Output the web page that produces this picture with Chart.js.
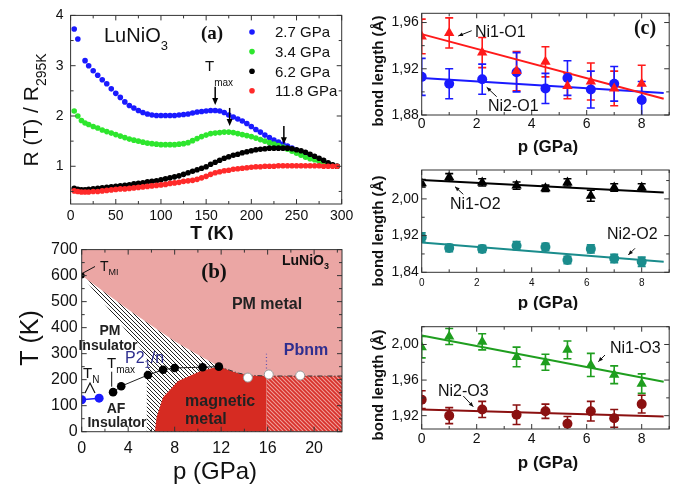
<!DOCTYPE html>
<html>
<head>
<meta charset="utf-8">
<script src="https://cdn.jsdelivr.net/npm/chart.js@4.4.0/dist/chart.umd.min.js"></script>
<style>
  html, body { margin: 0; padding: 0; background: #fff; }
  #wrap { position: relative; width: 683px; height: 484px; overflow: hidden; }
  canvas { position: absolute; }
</style>
</head>
<body>
<div id="wrap">
  <canvas id="chartA" width="360" height="240" style="left:0;top:0"></canvas>
  <canvas id="chartB" width="360" height="248" style="left:0;top:236px"></canvas>
  <canvas id="chartC1" width="343" height="155" style="left:340px;top:0"></canvas>
  <canvas id="chartC2" width="343" height="155" style="left:340px;top:155px"></canvas>
  <canvas id="chartC3" width="343" height="174" style="left:340px;top:310px"></canvas>
</div>
<script>
const SANS = '"Liberation Sans", Arial, Helvetica, sans-serif';
const SERIF = '"Liberation Serif", "Times New Roman", serif';

// ---- (a) resistance vs temperature ----
const temps = [4, 8, 12, 16, 20, 25, 30, 35, 40, 45, 50, 55, 60, 65, 70, 75, 80, 85, 90, 95,
  100, 105, 110, 115, 120, 125, 130, 135, 140, 145, 150, 155, 160, 165, 170, 175, 180, 185, 190, 195,
  200, 205, 210, 215, 220, 225, 230, 235, 240, 245, 250, 255, 260, 265, 270, 275, 280, 285, 290, 295];
const r27 = [3.73, 3.53, null, 3.10, 3.00, 2.90, 2.81, 2.72, 2.64, 2.54, 2.45, 2.37, 2.28, 2.21, 2.16, 2.11, 2.07, 2.04, 2.02, 2.01,
  2.01, 2.01, 2.01, 2.01, 2.02, 2.03, 2.04, 2.06, 2.08, 2.09, 2.10, 2.11, 2.11, 2.10, 2.07, 2.02, 1.98, 1.94, 1.90, 1.85,
  1.79, 1.73, 1.68, 1.62, 1.57, 1.52, 1.48, 1.44, 1.40, 1.36, 1.32, 1.28, 1.24, 1.20, 1.15, 1.11, 1.08, 1.05, 1.02, 1.00];
const r34 = [2.10, 2.00, 1.91, 1.86, 1.83, 1.79, 1.76, 1.72, 1.69, 1.66, 1.63, 1.60, 1.57, 1.54, 1.52, 1.50, 1.48, 1.46, 1.45, 1.44,
  1.43, 1.43, 1.43, 1.43, 1.44, 1.45, 1.47, 1.51, 1.55, 1.59, 1.62, 1.65, 1.66, 1.67, 1.68, 1.68, 1.67, 1.65, 1.63, 1.61,
  1.59, 1.56, 1.53, 1.50, 1.47, 1.44, 1.41, 1.38, 1.34, 1.30, 1.26, 1.22, 1.18, 1.15, 1.13, 1.10, 1.07, 1.04, 1.02, 1.00];
const r62 = [0.56, 0.54, 0.53, 0.53, 0.54, 0.55, 0.56, 0.57, 0.58, 0.59, 0.60, 0.61, 0.62, 0.63, 0.65, 0.66, 0.67, 0.69, 0.70, 0.71,
  0.73, 0.75, 0.77, 0.79, 0.81, 0.84, 0.87, 0.90, 0.93, 0.96, 0.99, 1.04, 1.08, 1.12, 1.16, 1.19, 1.22, 1.24, 1.27, 1.29,
  1.31, 1.33, 1.34, 1.35, 1.36, 1.36, 1.36, 1.36, 1.36, 1.35, 1.33, 1.31, 1.28, 1.24, 1.20, 1.16, 1.12, 1.07, 1.03, 1.00];
const r118 = [0.51, 0.50, 0.49, 0.49, 0.49, 0.50, 0.50, 0.51, 0.52, 0.53, 0.54, 0.55, 0.55, 0.56, 0.57, 0.58, 0.59, 0.60, 0.61, 0.62,
  0.63, 0.64, 0.66, 0.67, 0.68, 0.70, 0.71, 0.72, 0.74, 0.77, 0.80, 0.84, 0.87, 0.89, 0.91, 0.92, 0.94, 0.95, 0.96, 0.97,
  0.98, 0.99, 0.99, 1.00, 1.00, 1.00, 1.01, 1.01, 1.01, 1.01, 1.01, 1.01, 1.01, 1.01, 1.01, 1.01, 1.00, 1.00, 1.00, 1.00];
const pressures = ['2.7 GPa', '3.4 GPa', '6.2 GPa', '11.8 GPa'];
const colorsA = ['#1a1aff', '#2ee62e', '#000000', '#ff2a2a'];
const tmaxArrows = [[160, 2.58, 2.22], [176, 2.16, 1.80], [236, 1.80, 1.44]]; // T, from, to
const ticksAx = [0, 50, 100, 150, 200, 250, 300];
const ticksAy = [1, 2, 3, 4];

// ---- (b) phase diagram ----
const tmaxP = [2.7, 3.4, 5.7, 7.0, 8.0, 10.4, 11.8];
const tmaxT = [152, 175, 218, 238, 245, 248, 250];
const tnP = [0, 1.5];
const tnT = [123, 129];
const pbnmP = [14.3, 16.1, 18.8];
const pbnmT = [208, 220, 216];
const tmiP = [0];
const tmiT = [600];
const pmEdgeP = [0, 2, 4, 6, 8, 10, 11.8, 12.5, 13.5, 14.5, 15.9, 22.4];
const pmEdgeT = [600, 535, 470, 408, 348, 296, 252, 240, 225, 217, 214, 214];
const metalEdgeP = [6.3, 6.45, 7.0, 8.3, 10.2, 11.8];
const metalEdgeT = [0, 57, 132, 195, 232, 252];
const insEdgeP = [0, 5.6, 5.6];
const insEdgeT = [600, 290, 0];
const phaseSplitP = 15.9;
const splitLineT = [216, 300];
const ticksBx = [0, 4, 8, 12, 16, 20];
const ticksBy = [0, 100, 200, 300, 400, 500, 600, 700];

// ---- (c) bond lengths ----
const pc = [0, 1, 2.2, 3.45, 4.5, 5.3, 6.15, 7.0, 8.0];
const ni1o1 = [1.948, 1.951, 1.934, 1.918, 1.926, 1.905, 1.909, 1.903, 1.907];
const ni1o1Err = [0.015, 0.013, 0.013, 0.017, 0.013, 0.011, 0.016, 0.015, 0.016];
const ni2o1 = [1.913, 1.907, 1.911, 1.917, 1.903, 1.912, 1.902, 1.907, 1.893];
const ni2o1Err = [0.016, 0.013, 0.013, 0.017, 0.013, 0.015, 0.016, 0.015, 0.016];
const ni1o2 = [2.034, 2.047, 2.036, 2.029, 2.023, 2.036, 2.007, 2.025, 2.025];
const ni1o2Err = [0.008, 0.008, 0.008, 0.008, 0.007, 0.008, 0.012, 0.008, 0.008];
const ni2o2 = [1.916, 1.893, 1.891, 1.898, 1.895, 1.867, 1.891, 1.870, 1.863];
const ni2o2Err = [0.010, 0.008, 0.008, 0.009, 0.008, 0.008, 0.009, 0.009, 0.010];
const ni1o3 = [1.997, 2.009, 2.003, 1.986, 1.980, 1.994, 1.977, 1.966, 1.956];
const ni1o3Err = [0.012, 0.009, 0.009, 0.011, 0.009, 0.010, 0.013, 0.010, 0.011];
const ni2o3 = [1.938, 1.920, 1.927, 1.921, 1.925, 1.911, 1.925, 1.917, 1.933];
const ni2o3Err = [0.010, 0.009, 0.009, 0.011, 0.008, 0.008, 0.011, 0.010, 0.010];
const fitP = [0, 8.8];
const ni1o1Fit = [1.950, 1.894];
const ni2o1Fit = [1.912, 1.899];
const ni1o2Fit = [2.041, 2.014];
const ni2o2Fit = [1.905, 1.863];
const ni1o3Fit = [2.010, 1.958];
const ni2o3Fit = [1.927, 1.919];
const ticksCx = [0, 2, 4, 6, 8];

function xy(xs, ys) {
  return xs.map((v, i) => ({x: v, y: ys[i]})).filter(p => p.y !== null);
}

function hatch(fg, bg, gap, lw) {
  const c = document.createElement('canvas');
  c.width = gap; c.height = gap;
  const g = c.getContext('2d');
  g.fillStyle = bg; g.fillRect(0, 0, gap, gap);
  g.strokeStyle = fg; g.lineWidth = lw;
  g.beginPath();
  g.moveTo(-gap, 0); g.lineTo(gap, 2 * gap);
  g.moveTo(0, 0); g.lineTo(gap, gap);
  g.moveTo(0, -gap); g.lineTo(2 * gap, gap);
  g.stroke();
  return g.createPattern(c, 'repeat');
}

// text with optional subscripts, y = middle of capitals
function rich(ctx, x, y, parts, o) {
  const w = o.bold ? 'bold ' : '';
  const fam = o.serif ? SERIF : SANS;
  const big = w + o.size + 'px ' + fam;
  const small = w + Math.round(o.size * (o.sub || 0.66)) + 'px ' + fam;
  const dy = o.dy !== undefined ? o.dy : o.size * 0.3;
  ctx.save();
  ctx.fillStyle = o.color || '#111';
  ctx.textBaseline = 'alphabetic';
  let total = 0;
  parts.forEach(p => { ctx.font = p[1] ? small : big; total += ctx.measureText(p[0]).width; });
  let cx = o.align === 'center' ? x - total / 2 : (o.align === 'right' ? x - total : x);
  const base = y + o.size * 0.36;
  parts.forEach(p => {
    ctx.font = p[1] ? small : big;
    ctx.fillText(p[0], cx, base + (p[1] ? dy : 0));
    cx += ctx.measureText(p[0]).width;
  });
  ctx.restore();
}

function vrich(ctx, x, y, parts, o) {
  ctx.save();
  ctx.translate(x, y);
  ctx.rotate(-Math.PI / 2);
  rich(ctx, 0, 0, parts, Object.assign({align: 'center'}, o));
  ctx.restore();
}

function pointer(ctx, x0, y0, x1, y1, head) {
  ctx.save();
  ctx.strokeStyle = '#111'; ctx.fillStyle = '#111'; ctx.lineWidth = 1;
  ctx.beginPath(); ctx.moveTo(x0, y0); ctx.lineTo(x1, y1); ctx.stroke();
  if (head) {
    const a = Math.atan2(y1 - y0, x1 - x0);
    ctx.beginPath();
    ctx.moveTo(x1, y1);
    ctx.lineTo(x1 - 5 * Math.cos(a - 0.4), y1 - 5 * Math.sin(a - 0.4));
    ctx.lineTo(x1 - 5 * Math.cos(a + 0.4), y1 - 5 * Math.sin(a + 0.4));
    ctx.closePath(); ctx.fill();
  }
  ctx.restore();
}

// box round the plot with inward ticks on all four sides
const framePlugin = {
  id: 'frame',
  afterDraw(chart, args, o) {
    const {ctx, chartArea: a, scales: {x, y}} = chart;
    const majX = x.ticks.map(t => t.value), majY = y.ticks.map(t => t.value);
    ctx.save();
    ctx.strokeStyle = '#333'; ctx.lineWidth = 1;
    ctx.strokeRect(a.left, a.top, a.right - a.left, a.bottom - a.top);
    ctx.beginPath();
    for (let v = Math.ceil(x.min / o.dx - 1e-6) * o.dx; v <= x.max + 1e-9; v += o.dx) {
      const len = majX.some(m => Math.abs(m - v) < 1e-6) ? 5 : 3;
      const p = x.getPixelForValue(v);
      ctx.moveTo(p, a.bottom); ctx.lineTo(p, a.bottom - len);
      ctx.moveTo(p, a.top); ctx.lineTo(p, a.top + len);
    }
    for (let v = Math.ceil(y.min / o.dy - 1e-6) * o.dy; v <= y.max + 1e-9; v += o.dy) {
      const len = majY.some(m => Math.abs(m - v) < 1e-6) ? 5 : 3;
      const p = y.getPixelForValue(v);
      ctx.moveTo(a.left, p); ctx.lineTo(a.left + len, p);
      ctx.moveTo(a.right, p); ctx.lineTo(a.right - len, p);
    }
    ctx.stroke();
    ctx.restore();
  }
};

const errorBars = {
  id: 'errorBars',
  beforeDatasetsDraw(chart) {
    const {ctx, chartArea: a, scales: {x, y}} = chart;
    ctx.save();
    ctx.beginPath(); ctx.rect(a.left, a.top, a.right - a.left, a.bottom - a.top); ctx.clip();
    chart.data.datasets.forEach(ds => {
      if (!ds.errors) return;
      ctx.strokeStyle = ds.backgroundColor; ctx.lineWidth = 1.6;
      ds.data.forEach((pt, i) => {
        const px = x.getPixelForValue(pt.x);
        const top = y.getPixelForValue(pt.y + ds.errors[i]);
        const bot = y.getPixelForValue(pt.y - ds.errors[i]);
        ctx.beginPath();
        ctx.moveTo(px, top); ctx.lineTo(px, bot);
        ctx.moveTo(px - 4, top); ctx.lineTo(px + 4, top);
        ctx.moveTo(px - 4, bot); ctx.lineTo(px + 4, bot);
        ctx.stroke();
      });
    });
    ctx.restore();
  }
};

function makeChart(id, box, sc, datasets, deco) {
  const tickOpts = (pad, size, fmt) => ({
    autoSkip: false, maxRotation: 0, padding: pad, color: '#111',
    font: {family: SANS, size: size}, callback: fmt || (v => String(v))
  });
  return new Chart(document.getElementById(id), {
    type: 'scatter',
    data: {datasets: datasets},
    options: {
      responsive: false,
      animation: false,
      devicePixelRatio: 1,
      events: [],
      layout: {padding: {left: 0, top: box.t, right: box.w - box.r, bottom: 0}},
      plugins: {legend: {display: false}, tooltip: {enabled: false}, frame: {dx: sc.dx, dy: sc.dy}},
      scales: {
        x: {
          type: 'linear', min: sc.xMin, max: sc.xMax,
          grid: {display: false, drawTicks: false}, border: {display: false},
          afterBuildTicks: s => { s.ticks = sc.xTicks.map(v => ({value: v})); },
          afterFit: s => { s.height = box.h - box.b; },
          ticks: tickOpts(sc.xPad, sc.xFont)
        },
        y: {
          type: 'linear', min: sc.yMin, max: sc.yMax,
          grid: {display: false, drawTicks: false}, border: {display: false},
          afterBuildTicks: s => { s.ticks = sc.yTicks.map(v => ({value: v})); },
          afterFit: s => { s.width = box.l; },
          ticks: tickOpts(sc.yPad, sc.yFont, sc.yFmt)
        }
      }
    },
    plugins: [framePlugin, errorBars, {id: 'deco', afterDraw: deco}]
  });
}

// ---------- panel (a) ----------
const seriesA = [r27, r34, r62, r118];
makeChart('chartA', {w: 360, h: 240, l: 70.6, r: 341.7, t: 12.1, b: 204},
  {xMin: 0, xMax: 300, yMin: 0.25, yMax: 4, xTicks: ticksAx, yTicks: ticksAy, dx: 25, dy: 0.5,
   xPad: 4, yPad: 7, xFont: 14, yFont: 14},
  seriesA.map((s, i) => ({
    data: xy(temps, s), backgroundColor: colorsA[i], borderWidth: 0, pointRadius: 2.8, order: 3 - i
  })),
  chart => {
    const {ctx, scales: {x, y}} = chart;
    ctx.save();
    ctx.strokeStyle = '#000'; ctx.fillStyle = '#000'; ctx.lineWidth = 1.5;
    tmaxArrows.forEach(m => {
      const px = x.getPixelForValue(m[0]);
      const y0 = y.getPixelForValue(m[1]), y1 = y.getPixelForValue(m[2]);
      ctx.beginPath(); ctx.moveTo(px, y0); ctx.lineTo(px, y1 - 5); ctx.stroke();
      ctx.beginPath(); ctx.moveTo(px - 3, y1 - 7); ctx.lineTo(px + 3, y1 - 7); ctx.lineTo(px, y1);
      ctx.closePath(); ctx.fill();
    });
    pressures.forEach((lab, i) => {
      const ly = 32 + i * 19.6;
      ctx.fillStyle = colorsA[i];
      ctx.beginPath(); ctx.arc(252, ly, 2.8, 0, Math.PI * 2); ctx.fill();
      rich(ctx, 275, ly, [[lab, 0]], {size: 15});
    });
    ctx.restore();
    rich(ctx, 104, 35, [['LuNiO', 0], ['3', 1]], {size: 20, dy: 8});
    rich(ctx, 212, 32, [['(a)', 0]], {size: 19, bold: true, serif: true, align: 'center'});
    rich(ctx, 205, 66, [['T', 0], ['max', 1]], {size: 15, dy: 15});
    rich(ctx, 212, 232, [['T (K)', 0]], {size: 19, bold: true, align: 'center'});
    vrich(ctx, 30, 110, [['R (T) / R', 0], ['295K', 1]], {size: 21, dy: 8});
  });

// ---------- panel (b) ----------
const hatchBlack = hatch('#222', '#ffffff', 4, 1);
const hatchRed = hatch('#f0a09a', '#d8302a', 4, 1.1);
const pmArea = xy(pmEdgeP, pmEdgeT).concat([{x: 22.4, y: 700}, {x: 0, y: 700}]);
const insHatchArea = xy(insEdgeP, insEdgeT).concat([{x: phaseSplitP, y: 0}],
  xy(pmEdgeP, pmEdgeT).filter(p => p.x <= phaseSplitP).reverse());
const metalArea = xy(metalEdgeP, metalEdgeT).concat(
  xy(pmEdgeP, pmEdgeT).filter(p => p.x > 11.8 && p.x <= phaseSplitP), [{x: phaseSplitP, y: 0}]);
const pbnmArea = [{x: phaseSplitP, y: 0}, {x: phaseSplitP, y: 214}, {x: 22.4, y: 214}, {x: 22.4, y: 0}];
const area = (pts, bg, order) => ({type: 'line', data: pts, fill: 'shape', backgroundColor: bg,
  borderWidth: 0, pointRadius: 0, tension: 0, order: order});

makeChart('chartB', {w: 360, h: 248, l: 81.7, r: 342, t: 10, b: 195.7},
  {xMin: 0, xMax: 22.4, yMin: 0, yMax: 700, xTicks: ticksBx, yTicks: ticksBy, dx: 2, dy: 50,
   xPad: 7, yPad: 4, xFont: 16, yFont: 16},
  [
    area(insHatchArea, hatchBlack, 20),
    area(metalArea, '#d62b22', 19),
    area(pbnmArea, hatchRed, 18),
    area(pmArea, '#eba6a4', 17),
    {type: 'line', data: xy([phaseSplitP, phaseSplitP], splitLineT), borderColor: '#5a50b0', borderWidth: 1.2,
     borderDash: [1, 2.5], pointRadius: 0, fill: false, order: 16},
    {type: 'line', data: xy(pmEdgeP, pmEdgeT).filter(p => p.x >= 11.8), borderColor: '#333', borderWidth: 1,
     borderDash: [5, 2, 1, 2], pointRadius: 0, fill: false, order: 15},
    {data: xy(tmaxP, tmaxT), showLine: true, borderColor: '#222', borderWidth: 1, backgroundColor: '#000',
     pointRadius: 4.3, pointBorderWidth: 0, order: 4},
    {data: xy(tnP, tnT), showLine: true, borderColor: '#1a1aff', borderWidth: 1.5, backgroundColor: '#1a1aff',
     pointRadius: 4.5, pointBorderWidth: 0, order: 3},
    {data: xy(pbnmP, pbnmT), backgroundColor: '#ffffff', borderColor: '#999', borderWidth: 1,
     pointRadius: 4.5, order: 2},
    {data: xy(tmiP, tmiT), backgroundColor: '#000', borderWidth: 0, pointRadius: 3, order: 1}
  ],
  chart => {
    const ctx = chart.ctx;
    ctx.save();
    ctx.translate(0, -236);
    pointer(ctx, 83, 273, 95, 266.5, false);
    pointer(ctx, 111.7, 371.7, 111.7, 386.7, false);
    ctx.strokeStyle = '#111'; ctx.lineWidth = 1.2;
    ctx.beginPath(); ctx.moveTo(85, 393); ctx.lineTo(90, 383); ctx.lineTo(95, 393); ctx.stroke();
    rich(ctx, 100, 266, [['T', 0], ['MI', 1]], {size: 14, sub: 0.62});
    rich(ctx, 282, 260, [['LuNiO', 0], ['3', 1]], {size: 14, bold: true, sub: 0.62});
    rich(ctx, 214, 270, [['(b)', 0]], {size: 21, bold: true, serif: true, align: 'center'});
    rich(ctx, 267, 303, [['PM metal', 0]], {size: 16, bold: true, align: 'center', color: '#222'});
    rich(ctx, 306, 349, [['Pbnm', 0]], {size: 16, bold: true, align: 'center', color: '#2e2e8f'});
    rich(ctx, 185, 400, [['magnetic', 0]], {size: 16, bold: true, color: '#222'});
    rich(ctx, 185, 418, [['metal', 0]], {size: 16, bold: true, color: '#222'});
    rich(ctx, 110, 330, [['PM', 0]], {size: 14, bold: true, align: 'center', color: '#222'});
    rich(ctx, 108, 345, [['Insulator', 0]], {size: 14, bold: true, align: 'center', color: '#222'});
    rich(ctx, 125, 357, [['P2', 0], ['1', 1], ['/n', 0]], {size: 16, color: '#2e2e8f'});
    rich(ctx, 107, 363, [['T', 0], ['max', 1]], {size: 15});
    rich(ctx, 83, 373, [['T', 0], ['N', 1]], {size: 15});
    rich(ctx, 116, 408, [['AF', 0]], {size: 14, bold: true, align: 'center', color: '#222'});
    rich(ctx, 117, 422, [['Insulator', 0]], {size: 14, bold: true, align: 'center', color: '#222'});
    rich(ctx, 215, 470, [['p (GPa)', 0]], {size: 24, align: 'center'});
    vrich(ctx, 29, 338, [['T (K)', 0]], {size: 25});
    ctx.restore();
  });

// ---------- panel (c) ----------
const commaFmt = v => v.toFixed(2).replace('.', ',');
const marker = (ys, errs, color, style) => ({
  data: xy(pc, ys), errors: errs, backgroundColor: color, borderWidth: 0,
  pointStyle: style, pointRadius: style === 'triangle' ? 6 : 5, order: 1
});
const fitLine = (ys, color) => ({
  type: 'line', data: xy(fitP, ys), borderColor: color, borderWidth: 2, pointRadius: 0, fill: false, order: 5
});
const boxC = (h, t, b) => ({w: 343, h: h, l: 81.7, r: 329.2, t: t, b: b});
const scC = (yMin, yMax, yTicks, dy, xFont, xPad) => ({
  xMin: 0, xMax: 9, yMin: yMin, yMax: yMax, xTicks: ticksCx, yTicks: yTicks, dx: 1, dy: dy,
  xPad: xPad, yPad: 3, xFont: xFont, yFont: 14, yFmt: commaFmt
});
function titlesC(ctx, cy, ty) {
  vrich(ctx, 378, cy, [['bond length (\u00c5)', 0]], {size: 15, bold: true});
  rich(ctx, 548, ty, [['p (GPa)', 0]], {size: 17, bold: true, align: 'center'});
}

makeChart('chartC1', boxC(155, 13.3, 115), scC(1.88, 1.968, [1.88, 1.92, 1.96], 0.02, 14, 1),
  [marker(ni1o1, ni1o1Err, '#ff1a1a', 'triangle'), marker(ni2o1, ni2o1Err, '#1a1aff', 'circle'),
   fitLine(ni1o1Fit, '#ff1a1a'), fitLine(ni2o1Fit, '#1a1aff')],
  chart => {
    const ctx = chart.ctx;
    ctx.save(); ctx.translate(-340, 0);
    rich(ctx, 645, 27, [['(c)', 0]], {size: 20, bold: true, serif: true, align: 'center'});
    rich(ctx, 475, 31, [['Ni1-O1', 0]], {size: 16});
    pointer(ctx, 471.7, 30.7, 458.3, 36, true);
    rich(ctx, 488, 105, [['Ni2-O1', 0]], {size: 16});
    pointer(ctx, 496.7, 96.7, 486.7, 87.3, true);
    titlesC(ctx, 71, 146);
    ctx.restore();
  });

makeChart('chartC2', boxC(155, 15, 117.3), scC(1.84, 2.063, [1.84, 1.92, 2.00], 0.04, 10, 5),
  [marker(ni1o2, ni1o2Err, '#000000', 'triangle'), marker(ni2o2, ni2o2Err, '#1a8c8c', 'circle'),
   fitLine(ni1o2Fit, '#000000'), fitLine(ni2o2Fit, '#1a8c8c')],
  chart => {
    const ctx = chart.ctx;
    ctx.save(); ctx.translate(-340, -155);
    rich(ctx, 450, 203, [['Ni1-O2', 0]], {size: 16});
    pointer(ctx, 463.3, 194.3, 455, 186.7, true);
    rich(ctx, 607, 233, [['Ni2-O2', 0]], {size: 16});
    pointer(ctx, 635, 248.3, 628.3, 255, true);
    titlesC(ctx, 231, 302);
    ctx.restore();
  });

makeChart('chartC3', boxC(174, 16.7, 119), scC(1.905, 2.02, [1.92, 1.96, 2.00], 0.02, 14, 2),
  [marker(ni1o3, ni1o3Err, '#1f9e1f', 'triangle'), marker(ni2o3, ni2o3Err, '#8b1010', 'circle'),
   fitLine(ni1o3Fit, '#1f9e1f'), fitLine(ni2o3Fit, '#8b1010')],
  chart => {
    const ctx = chart.ctx;
    ctx.save(); ctx.translate(-340, -310);
    rich(ctx, 610, 347, [['Ni1-O3', 0]], {size: 16});
    pointer(ctx, 605, 355, 598.3, 361.7, true);
    rich(ctx, 438, 390, [['Ni2-O3', 0]], {size: 16});
    pointer(ctx, 463.3, 396, 473.3, 406.7, true);
    titlesC(ctx, 385, 462);
    ctx.restore();
  });
</script>
</body>
</html>
